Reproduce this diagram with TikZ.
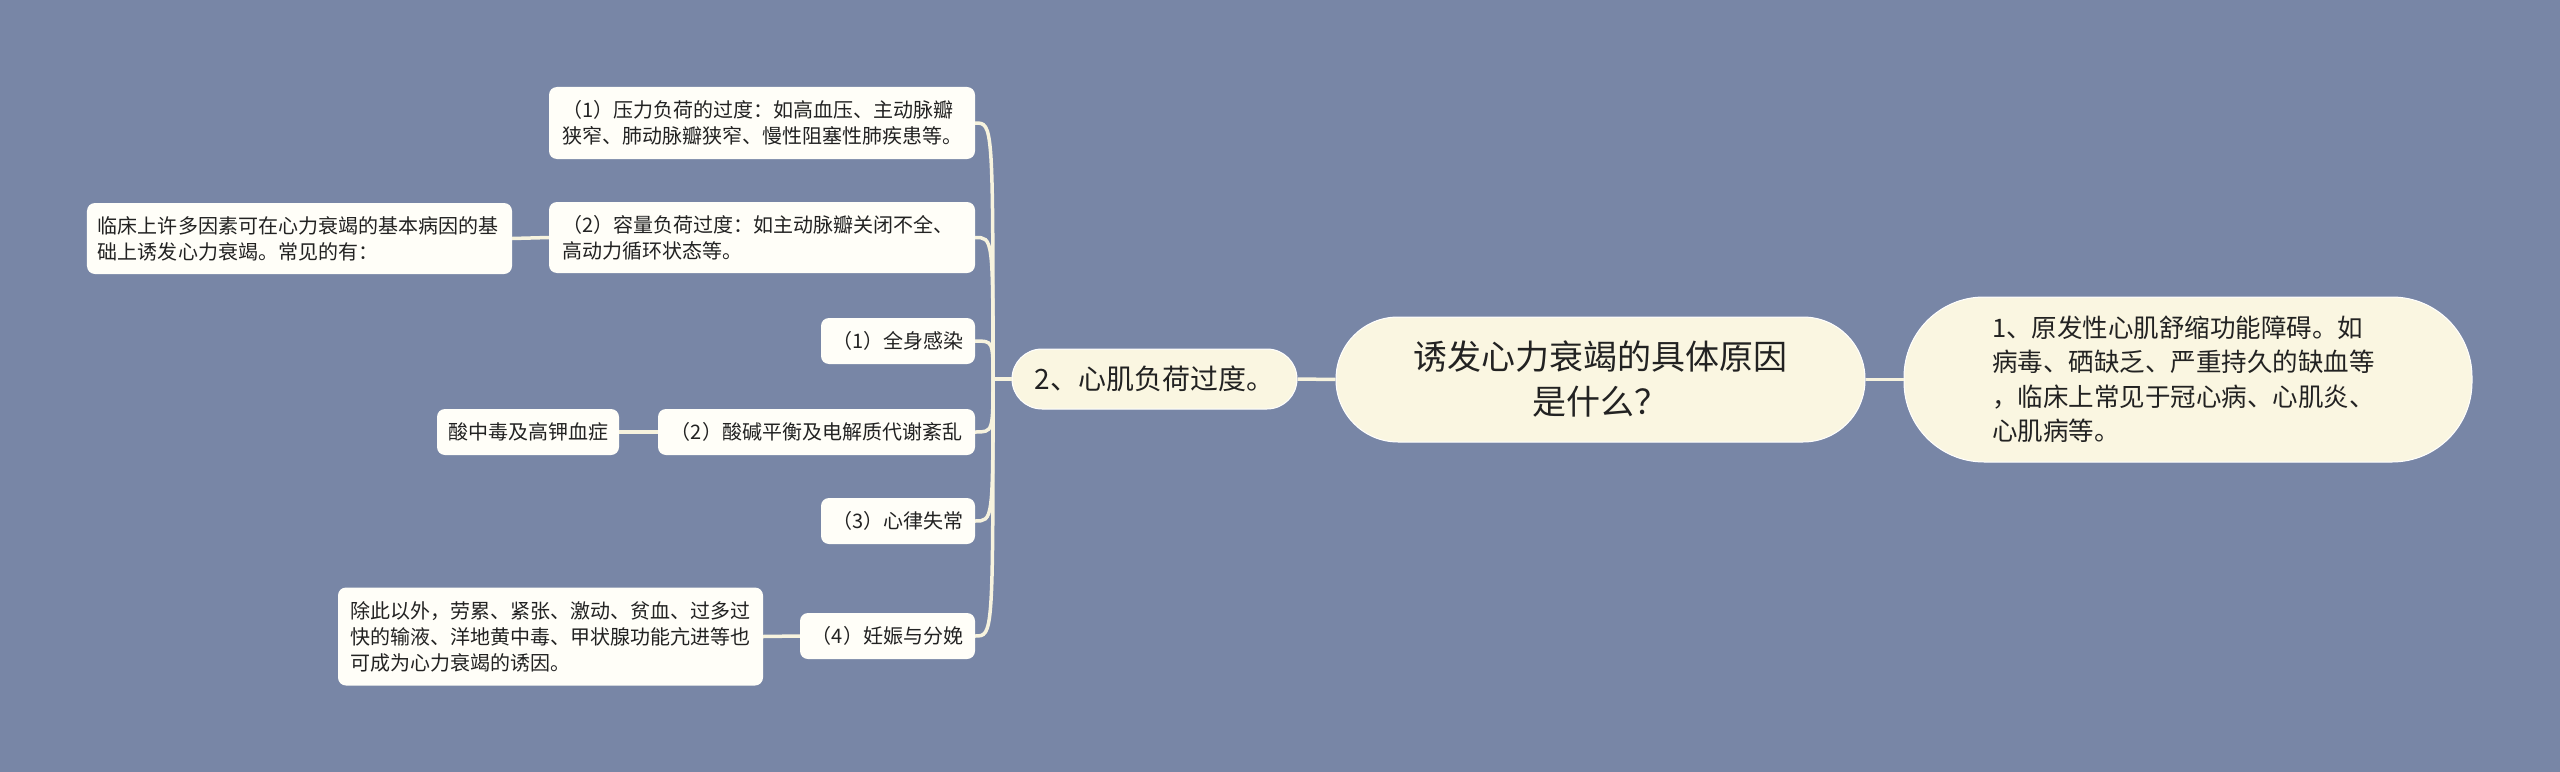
\documentclass[tikz,border=0pt]{standalone}
\usepackage{fontspec}
\setmainfont{Noto Sans CJK SC}
\definecolor{bg}{HTML}{7886A6}
\definecolor{cream}{HTML}{FAF6E1}
\definecolor{paper}{HTML}{FFFEF8}
\definecolor{wire}{HTML}{F7F3DE}
\definecolor{ink}{HTML}{222222}
\tikzset{
  leaf/.style={rounded corners=8bp, fill=paper, text=ink, inner sep=0pt,
    font=\fontsize{20bp}{26bp}\selectfont},
  leafml/.style={leaf, align=left},
  big/.style={fill=cream, draw=white, line width=1bp, text=ink, inner sep=0pt},
  wire/.style={draw=wire, line width=3.5bp},
}
\begin{document}
\begin{tikzpicture}[x=1bp,y=-1bp]
\fill[bg] (0,0) rectangle (2560,772);
\useasboundingbox (0,0) rectangle (2560,772);

% central and first-level nodes
\node[big, rounded corners=62bp, minimum width=529bp, minimum height=125bp,
  align=center, font=\fontsize{34bp}{45bp}\selectfont] (root) at (1600.5,379.5)
  {诱发心力衰竭的具体原因\\是什么？};
\node[big, rounded corners=80bp, minimum width=568bp, minimum height=165bp,
  text width=392bp, align=left, font=\fontsize{25.5bp}{34.5bp}\selectfont] (r1) at (2188,379.5)
  {1、原发性心肌舒缩功能障碍。如\\病毒、硒缺乏、严重持久的缺血等\\，临床上常见于冠心病、心肌炎、\\心肌病等。};
\node[big, rounded corners=30bp, minimum width=285bp, minimum height=60bp,
  font=\fontsize{28bp}{34bp}\selectfont] (m2) at (1154.5,379)
  {2、心肌负荷过度。};

% second-level nodes
\node[leafml, minimum width=426bp, minimum height=72bp, text width=400bp] (a) at (762,123)
  {（1）压力负荷的过度：如高血压、主动脉瓣\\狭窄、肺动脉瓣狭窄、慢性阻塞性肺疾患等。};
\node[leafml, minimum width=426bp, minimum height=71bp, text width=400bp] (b) at (762,237.5)
  {（2）容量负荷过度：如主动脉瓣关闭不全、\\高动力循环状态等。};
\node[leaf, minimum width=154bp, minimum height=46bp] (d) at (898,341)
  {（1）全身感染};
\node[leaf, minimum width=317bp, minimum height=46bp] (e) at (816.5,432)
  {（2）酸碱平衡及电解质代谢紊乱};
\node[leaf, minimum width=154bp, minimum height=46bp] (g) at (898,521)
  {（3）心律失常};
\node[leaf, minimum width=175bp, minimum height=46bp] (h) at (887.5,636)
  {（4）妊娠与分娩};

% third-level nodes
\node[leafml, minimum width=425bp, minimum height=71bp, text width=403bp] (c) at (299.5,238.5)
  {临床上许多因素可在心力衰竭的基本病因的基\\础上诱发心力衰竭。常见的有：};
\node[leaf, minimum width=182bp, minimum height=46bp] (f) at (528,432)
  {酸中毒及高钾血症};
\node[leafml, minimum width=425bp, minimum height=98bp, text width=400bp] (i) at (550.5,636.5)
  {除此以外，劳累、紧张、激动、贫血、过多过\\快的输液、洋地黄中毒、甲状腺功能亢进等也\\可成为心力衰竭的诱因。};

% connectors
\coordinate (j) at (993,379);
\draw[wire] (root.east) -- (r1.west);
\draw[wire] (root.west) -- (m2.east);
\draw[wire] (m2.west) -- (j);
\foreach \n in {a,b,d,e,g,h}{
  \draw[wire] (\n.east) .. controls (\n.east -| j) .. (j);
}
\draw[wire] (c.east) -- (b.west);
\draw[wire] (f.east) -- (e.west);
\draw[wire] (i.east) -- (h.west);
\end{tikzpicture}
\end{document}
